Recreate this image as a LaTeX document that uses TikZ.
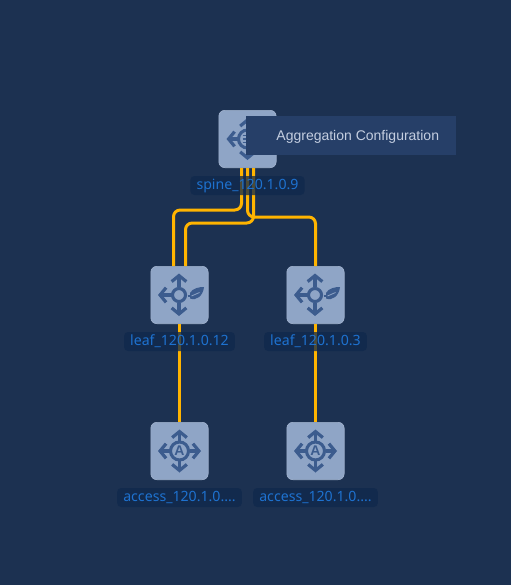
\documentclass[tikz,border=0pt]{standalone}
\usepackage{fontspec}
\setmainfont{Liberation Sans}
\newfontfamily\labelfont{Noto Sans}
\usetikzlibrary{arrows.meta,positioning}
\definecolor{canvas}{RGB}{28,49,81}
\definecolor{tile}{RGB}{143,165,198}
\definecolor{tileedge}{RGB}{160,178,206}
\definecolor{glyphc}{RGB}{60,92,142}
\definecolor{wire}{RGB}{255,180,0}
\definecolor{tagfill}{RGB}{15,40,76}
\definecolor{tagtext}{RGB}{30,114,208}
\definecolor{tipfill}{RGB}{38,63,104}
\definecolor{tiptext}{RGB}{196,206,224}
\tikzset{
  device/.style={draw=tileedge,fill=tile,rounded corners=4.5pt,line width=.5pt,minimum size=43pt,inner sep=0pt},
  wirelink/.style={wire,line width=2.25pt,rounded corners=5pt},
  tag/.style={fill=tagfill,fill opacity=.75,text opacity=1,text=tagtext,rounded corners=3pt,inner xsep=4.6pt,inner ysep=0pt,
    minimum height=14.25pt,font=\labelfont\fontsize{10.6pt}{12pt}\selectfont,below=5.8pt of #1},
  arm/.style={glyphc,line width=2.4pt,-{Straight Barb[length=4.5pt,width=11pt]}},
  ring/.style={draw=glyphc,line width=2.3pt},
  pics/leafglyph/.style={code={
    \draw[ring] (-.5,0) circle (6.5);
    \draw[arm] (-.5,-8) -- (-.5,-21.5);
    \draw[arm] (-.5,8) -- (-.5,21);
    \draw[arm] (-8,0) -- (-21.5,0);
    \fill[glyphc] (10.5,-2) .. controls (13,-7) and (20,-8) .. (24.5,-8) .. controls (23.5,1) and (17,6) .. (10.5,3.5) -- cycle;
    \draw[glyphc,line width=1.4pt] (8,1) -- (12,1);
    \draw[tile,line width=.6pt] (12,1) -- (20,-2.5);
  }},
  pics/accessglyph/.style={code={
    \draw[ring] (0,0) circle (9);
    \foreach \ax/\ay in {0/-1,0/1,-1/0,1/0}
      \draw[arm] (10*\ax,10*\ay) -- (21.5*\ax,21.5*\ay);
    \node[glyphc,font=\bfseries\fontsize{10.5pt}{10.5pt}\selectfont,inner sep=0pt] (-mark) {A};
  }},
  pics/spineglyph/.style={code={
    \draw[ring] (0,0) circle (9);
    \foreach \ly in {-3.5,0,3.5}
      \draw[glyphc,line width=1.2pt] (-5,\ly) -- (5,\ly);
    \foreach \ax/\ay in {0/-1,0/1,-1/0,1/0}
      \draw[arm] (10*\ax,10*\ay) -- (21*\ax,21*\ay);
  }},
}
\begin{document}
\begin{tikzpicture}[x=.75pt,y=-.75pt]
  \fill[canvas] (0,0) rectangle (511,585);
  \useasboundingbox (0,0) rectangle (511,585);
  \node[device] (spine) at (247.5,139) {};
  \node[device,below left=73.5pt and 7.5pt of spine] (leaf12) {};
  \node[device,right=58.5pt of leaf12] (leaf3) {};
  \node[device,below=73.5pt of leaf12] (access12) {};
  \node[device,below=73.5pt of leaf3] (access3) {};
  \pic at (spine) {spineglyph};
  \pic at (leaf12) {leafglyph};
  \pic at (leaf3) {leafglyph};
  \pic (acone) at (access12) {accessglyph};
  \pic (actwo) at (access3) {accessglyph};
  \draw[wirelink] ([xshift=-4.5pt]spine.south) -- ++(0,42) -| ([xshift=-4.5pt]leaf12.north);
  \draw[wirelink] (spine.south) -- ++(0,49) -| (leaf3.north);
  \draw[wirelink] ([xshift=4.5pt]spine.south) -- ++(0,55) -| ([xshift=4.5pt]leaf12.north);
  \draw[wirelink] (leaf12.south) -- (access12.north);
  \draw[wirelink] (leaf3.south) -- (access3.north);
  \node[tag=spine] (spinetag) {spine\_120.1.0.9};
  \node[tag=leaf12] (leaf12tag) {leaf\_120.1.0.12};
  \node[tag=leaf3] (leaf3tag) {leaf\_120.1.0.3};
  \node[tag=access12] (access12tag) {access\_120.1.0....};
  \node[tag=access3] (access3tag) {access\_120.1.0....};
  \node[fill=tipfill,text=tiptext,anchor=west,minimum width=157.5pt,minimum height=29.25pt,inner sep=0pt,
    text height=10pt,text depth=2.2pt,font=\fontsize{10.5pt}{12pt}\selectfont] (hint) at (246,135.5) {\hspace*{9.75pt}Aggregation Configuration};
\end{tikzpicture}
\end{document}
